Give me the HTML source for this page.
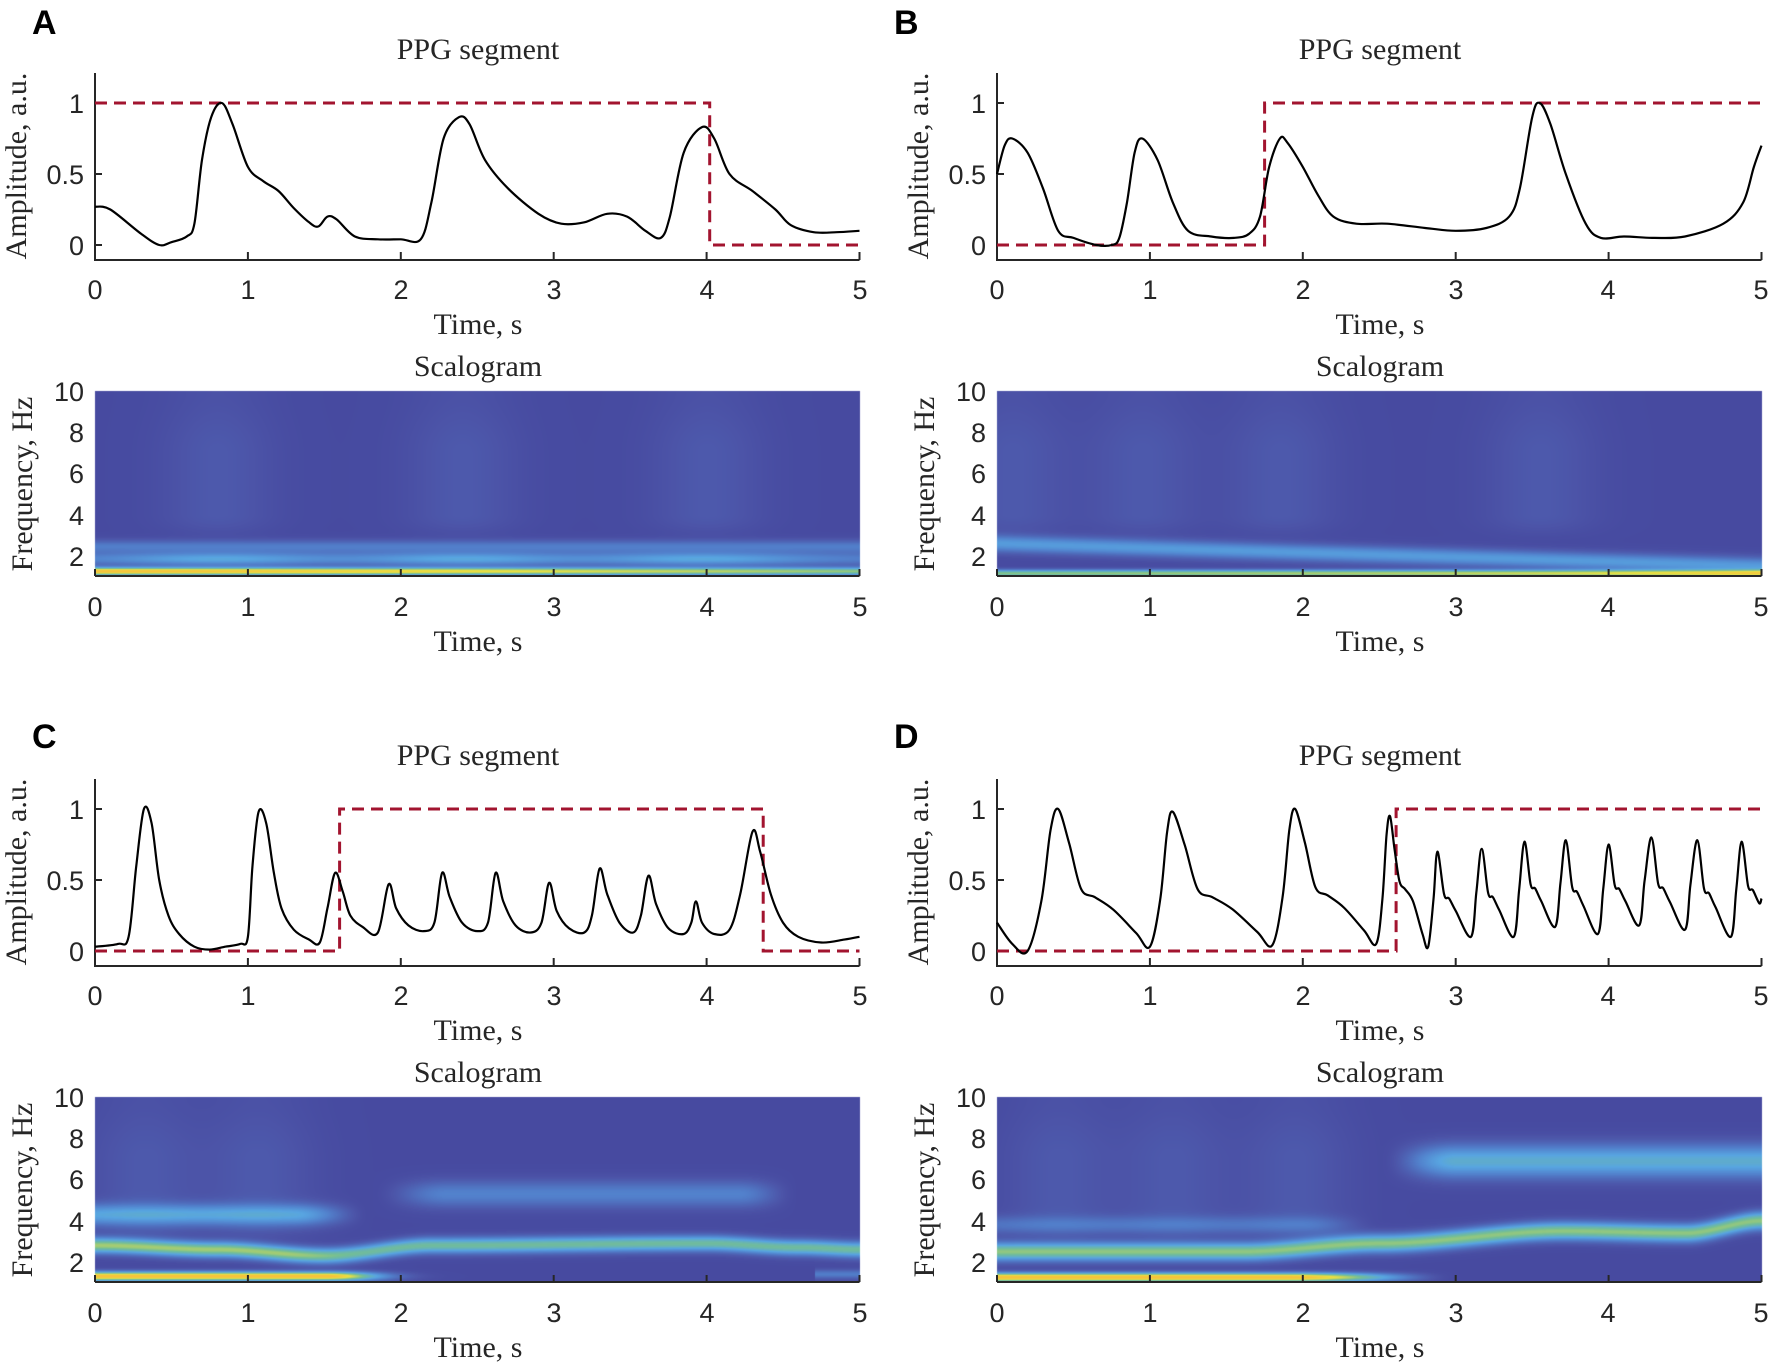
<!DOCTYPE html>
<html><head><meta charset="utf-8"><style>
html,body{margin:0;padding:0;background:#fff;}
#wrap{position:relative;width:1772px;height:1366px;overflow:hidden;}
canvas,svg{position:absolute;left:0;top:0;}
.tk{font-family:"Liberation Sans",sans-serif;font-size:27px;fill:#262626;}
.sr{font-family:"Liberation Serif",serif;font-size:30px;fill:#262626;}
.lt{font-family:"Liberation Sans",sans-serif;font-size:34px;font-weight:bold;fill:#000;}
</style></head><body><div id="wrap">
<canvas id="cv" width="1772" height="1366"></canvas>
<svg id="sv" width="1772" height="1366" xmlns="http://www.w3.org/2000/svg">
<g id="g"></g>
<text class="lt" x="32" y="34">A</text>
<text class="lt" x="894" y="34">B</text>
<text class="lt" x="32" y="748">C</text>
<text class="lt" x="894" y="748">D</text>
<text class="sr" x="478" y="59" text-anchor="middle">PPG segment</text>
<text class="sr" x="1380" y="59" text-anchor="middle">PPG segment</text>
<text class="sr" x="478" y="765" text-anchor="middle">PPG segment</text>
<text class="sr" x="1380" y="765" text-anchor="middle">PPG segment</text>
<text class="sr" x="478" y="376" text-anchor="middle">Scalogram</text>
<text class="sr" x="1380" y="376" text-anchor="middle">Scalogram</text>
<text class="sr" x="478" y="1082" text-anchor="middle">Scalogram</text>
<text class="sr" x="1380" y="1082" text-anchor="middle">Scalogram</text>
<text class="sr" x="478" y="334" text-anchor="middle">Time, s</text>
<text class="sr" x="1380" y="334" text-anchor="middle">Time, s</text>
<text class="sr" x="478" y="651" text-anchor="middle">Time, s</text>
<text class="sr" x="1380" y="651" text-anchor="middle">Time, s</text>
<text class="sr" x="478" y="1040" text-anchor="middle">Time, s</text>
<text class="sr" x="1380" y="1040" text-anchor="middle">Time, s</text>
<text class="sr" x="478" y="1357" text-anchor="middle">Time, s</text>
<text class="sr" x="1380" y="1357" text-anchor="middle">Time, s</text>
<text class="sr" transform="translate(26,166) rotate(-90)" text-anchor="middle">Amplitude, a.u.</text>
<text class="sr" transform="translate(928,166) rotate(-90)" text-anchor="middle">Amplitude, a.u.</text>
<text class="sr" transform="translate(26,872) rotate(-90)" text-anchor="middle">Amplitude, a.u.</text>
<text class="sr" transform="translate(928,872) rotate(-90)" text-anchor="middle">Amplitude, a.u.</text>
<text class="sr" transform="translate(32,484) rotate(-90)" text-anchor="middle">Frequency, Hz</text>
<text class="sr" transform="translate(934,484) rotate(-90)" text-anchor="middle">Frequency, Hz</text>
<text class="sr" transform="translate(32,1190) rotate(-90)" text-anchor="middle">Frequency, Hz</text>
<text class="sr" transform="translate(934,1190) rotate(-90)" text-anchor="middle">Frequency, Hz</text>
<g id="ticks">
<g class="tk" text-anchor="middle">
<text x="95" y="299">0</text><text x="248" y="299">1</text><text x="401" y="299">2</text><text x="554" y="299">3</text><text x="707" y="299">4</text><text x="860" y="299">5</text>
<text x="997" y="299">0</text><text x="1150" y="299">1</text><text x="1303" y="299">2</text><text x="1456" y="299">3</text><text x="1608" y="299">4</text><text x="1761" y="299">5</text>
<text x="95" y="616">0</text><text x="248" y="616">1</text><text x="401" y="616">2</text><text x="554" y="616">3</text><text x="707" y="616">4</text><text x="860" y="616">5</text>
<text x="997" y="616">0</text><text x="1150" y="616">1</text><text x="1303" y="616">2</text><text x="1456" y="616">3</text><text x="1608" y="616">4</text><text x="1761" y="616">5</text>
<text x="95" y="1005">0</text><text x="248" y="1005">1</text><text x="401" y="1005">2</text><text x="554" y="1005">3</text><text x="707" y="1005">4</text><text x="860" y="1005">5</text>
<text x="997" y="1005">0</text><text x="1150" y="1005">1</text><text x="1303" y="1005">2</text><text x="1456" y="1005">3</text><text x="1608" y="1005">4</text><text x="1761" y="1005">5</text>
<text x="95" y="1322">0</text><text x="248" y="1322">1</text><text x="401" y="1322">2</text><text x="554" y="1322">3</text><text x="707" y="1322">4</text><text x="860" y="1322">5</text>
<text x="997" y="1322">0</text><text x="1150" y="1322">1</text><text x="1303" y="1322">2</text><text x="1456" y="1322">3</text><text x="1608" y="1322">4</text><text x="1761" y="1322">5</text>
</g>
<g class="tk" text-anchor="end">
<text x="84" y="113">1</text><text x="84" y="184">0.5</text><text x="84" y="255">0</text>
<text x="986" y="113">1</text><text x="986" y="184">0.5</text><text x="986" y="255">0</text>
<text x="84" y="819">1</text><text x="84" y="890">0.5</text><text x="84" y="961">0</text>
<text x="986" y="819">1</text><text x="986" y="890">0.5</text><text x="986" y="961">0</text>
<text x="84" y="401">10</text><text x="84" y="442">8</text><text x="84" y="483">6</text><text x="84" y="525">4</text><text x="84" y="566">2</text>
<text x="986" y="401">10</text><text x="986" y="442">8</text><text x="986" y="483">6</text><text x="986" y="525">4</text><text x="986" y="566">2</text>
<text x="84" y="1107">10</text><text x="84" y="1148">8</text><text x="84" y="1189">6</text><text x="84" y="1231">4</text><text x="84" y="1272">2</text>
<text x="986" y="1107">10</text><text x="986" y="1148">8</text><text x="986" y="1189">6</text><text x="986" y="1231">4</text><text x="986" y="1272">2</text>
</g>
</g>
</svg>
</div>
<script>
var NS="http://www.w3.org/2000/svg",G=document.getElementById('g');
function el(n,a){var e=document.createElementNS(NS,n);for(var k in a)e.setAttribute(k,a[k]);G.appendChild(e);return e;}
var panels=[{x0:95,dy:0},{x0:997,dy:0},{x0:95,dy:706},{x0:997,dy:706}];
var W=764.5;
function crPath(pts){var d="M"+pts[0][0].toFixed(1)+","+pts[0][1].toFixed(1);
for(var i=0;i<pts.length-1;i++){var p0=pts[i-1]||pts[i],p1=pts[i],p2=pts[i+1],p3=pts[i+2]||p2;
var c1=[p1[0]+(p2[0]-p0[0])/6,p1[1]+(p2[1]-p0[1])/6],c2=[p2[0]-(p3[0]-p1[0])/6,p2[1]-(p3[1]-p1[1])/6];
d+="C"+c1[0].toFixed(1)+","+c1[1].toFixed(1)+" "+c2[0].toFixed(1)+","+c2[1].toFixed(1)+" "+p2[0].toFixed(1)+","+p2[1].toFixed(1);}return d;}
var sig=[
[[0,0.27],[0.1,0.25],[0.3,0.08],[0.42,0],[0.5,0.02],[0.6,0.06],[0.65,0.15],[0.7,0.6],[0.76,0.9],[0.83,1.0],[0.9,0.85],[1.0,0.55],[1.1,0.45],[1.2,0.38],[1.3,0.26],[1.4,0.16],[1.46,0.13],[1.52,0.2],[1.58,0.18],[1.7,0.06],[1.85,0.04],[2.0,0.04],[2.13,0.04],[2.2,0.3],[2.28,0.75],[2.38,0.9],[2.45,0.85],[2.55,0.6],[2.7,0.4],[2.9,0.22],[3.05,0.15],[3.2,0.16],[3.35,0.22],[3.48,0.2],[3.6,0.1],[3.7,0.05],[3.76,0.2],[3.85,0.65],[3.97,0.83],[4.05,0.75],[4.15,0.5],[4.3,0.38],[4.45,0.25],[4.55,0.14],[4.7,0.09],[4.85,0.09],[5,0.1]],
[[0,0.5],[0.05,0.7],[0.1,0.75],[0.2,0.65],[0.3,0.4],[0.4,0.1],[0.5,0.05],[0.65,0.0],[0.75,0.0],[0.8,0.05],[0.85,0.3],[0.9,0.65],[0.95,0.75],[1.05,0.6],[1.15,0.3],[1.25,0.1],[1.4,0.06],[1.55,0.05],[1.65,0.08],[1.72,0.2],[1.78,0.55],[1.85,0.75],[1.9,0.72],[2.0,0.55],[2.1,0.35],[2.2,0.2],[2.35,0.15],[2.55,0.15],[2.8,0.12],[3.0,0.1],[3.2,0.12],[3.35,0.2],[3.42,0.4],[3.5,0.9],[3.55,1.0],[3.62,0.85],[3.72,0.5],[3.85,0.15],[3.95,0.05],[4.1,0.06],[4.3,0.05],[4.5,0.06],[4.75,0.15],[4.88,0.3],[4.95,0.55],[5,0.7]],
[[0,0.03],[0.15,0.05],[0.22,0.1],[0.27,0.6],[0.32,1.0],[0.37,0.9],[0.42,0.5],[0.48,0.25],[0.55,0.12],[0.65,0.03],[0.75,0.01],[0.85,0.03],[0.95,0.05],[1.0,0.1],[1.03,0.6],[1.07,0.98],[1.12,0.9],[1.17,0.55],[1.22,0.3],[1.3,0.15],[1.4,0.08],[1.47,0.06],[1.52,0.3],[1.57,0.55],[1.62,0.42],[1.67,0.25],[1.75,0.17],[1.85,0.13],[1.92,0.47],[1.97,0.3],[2.05,0.18],[2.15,0.14],[2.22,0.2],[2.27,0.55],[2.32,0.38],[2.4,0.2],[2.5,0.14],[2.57,0.2],[2.62,0.55],[2.67,0.35],[2.75,0.18],[2.85,0.13],[2.92,0.2],[2.97,0.48],[3.02,0.28],[3.1,0.16],[3.2,0.13],[3.25,0.25],[3.3,0.58],[3.35,0.4],[3.43,0.2],[3.52,0.13],[3.57,0.25],[3.62,0.53],[3.67,0.33],[3.75,0.16],[3.85,0.12],[3.9,0.2],[3.93,0.35],[3.97,0.2],[4.05,0.12],[4.15,0.15],[4.22,0.4],[4.3,0.84],[4.35,0.7],[4.42,0.4],[4.5,0.2],[4.6,0.1],[4.75,0.06],[4.9,0.08],[5,0.1]],
null];
(function(){var p=[[0,0.2]];
function beat(t0,v0,tp,a,t1,v1,sh){var L=t1-tp;
p.push([t0,v0]);p.push([t0+(tp-t0)*0.45,v0+(a-v0)*0.35]);p.push([t0+(tp-t0)*0.75,v0+(a-v0)*0.85]);p.push([tp,a]);
p.push([tp+L*0.12,v1+(a-v1)*0.75]);p.push([tp+L*0.25,v1+(a-v1)*sh]);p.push([tp+L*0.4,v1+(a-v1)*(sh-0.06)]);p.push([tp+L*0.6,v1+(a-v1)*(sh-0.15)]);p.push([tp+L*0.85,v1+(a-v1)*0.1]);}
p.push([0.1,0.05]);
beat(0.2,0,0.4,1.0,1.0,0.03,0.42);beat(1.0,0.03,1.15,0.98,1.8,0.04,0.42);beat(1.8,0.04,1.95,1.0,2.48,0.05,0.42);
beat(2.48,0.05,2.57,0.95,2.82,0.03,0.5);
var T=[[2.82,0.03,2.88,0.7],[3.1,0.1,3.17,0.72],[3.38,0.1,3.45,0.77],[3.65,0.17,3.72,0.78],[3.93,0.12,4.0,0.75],[4.2,0.18,4.28,0.8],[4.5,0.15,4.58,0.78],[4.8,0.1,4.87,0.77]];
var nx=[[3.1,0.1],[3.38,0.1],[3.65,0.17],[3.93,0.12],[4.2,0.18],[4.5,0.15],[4.8,0.1],[5.08,0.15]];
for(var i=0;i<T.length;i++){var b=T[i],L=nx[i][0]-b[2],v1=nx[i][1],a=b[3];
p.push([b[0],b[1]]);p.push([b[0]+0.035,b[1]+(a-b[1])*0.5]);p.push([b[2],a]);p.push([b[2]+L*0.2,v1+(a-v1)*0.5]);p.push([b[2]+L*0.35,v1+(a-v1)*0.45]);
if(b[2]+L*0.55<=5)p.push([b[2]+L*0.55,v1+(a-v1)*0.3]);}
p.push([5,0.37]);sig[3]=p.filter(function(q){return q[0]<=5;});})();
var rect=[[[0,1],[4.02,1],[4.02,0],[5,0]],[[0,0],[1.75,0],[1.75,1],[5,1]],[[0,0],[1.6,0],[1.6,1],[4.37,1],[4.37,0],[5,0]],[[0,0],[2.61,0],[2.61,1],[5,1]]];
panels.forEach(function(P,i){var sx=function(t){return P.x0+t*W/5},sy=function(v){return P.dy+245-v*142};
el('path',{d:"M"+P.x0+","+(P.dy+73)+"V"+(P.dy+260)+"H"+(P.x0+W),stroke:"#262626","stroke-width":2,fill:"none"});
for(var k=1;k<=5;k++)el('line',{x1:sx(k),x2:sx(k),y1:P.dy+260,y2:P.dy+252,stroke:"#262626","stroke-width":2});
[0,0.5,1].forEach(function(v){el('line',{x1:P.x0,x2:P.x0+7,y1:sy(v),y2:sy(v),stroke:"#262626","stroke-width":2});});
el('path',{d:rect[i].map(function(q,j){return (j?"L":"M")+sx(q[0]).toFixed(1)+","+sy(q[1]).toFixed(1)}).join(""),stroke:"#a2142f","stroke-width":3,"stroke-dasharray":"12,7",fill:"none"});
el('path',{d:crPath(sig[i].map(function(q){return [sx(q[0]),sy(q[1])]})),stroke:"#000","stroke-width":2.2,fill:"none"});
var by=P.dy+576;
el('line',{x1:P.x0,x2:P.x0+W,y1:by,y2:by,stroke:"#262626","stroke-width":2});
for(var k=0;k<=5;k++)el('line',{x1:sx(k),x2:sx(k),y1:by,y2:by-7,stroke:"#262626","stroke-width":2});
});
function g(x,m,s){var z=(x-m)/s;return Math.exp(-0.5*z*z);}
function interp(arr,t){if(t<=arr[0][0])return arr[0][1];for(var i=0;i<arr.length-1;i++){if(t<=arr[i+1][0]){var u=(t-arr[i][0])/(arr[i+1][0]-arr[i][0]);u=u*u*(3-2*u);return arr[i][1]+u*(arr[i+1][1]-arr[i][1]);}}return arr[arr.length-1][1];}
function ss(x,a,b){var u=Math.min(1,Math.max(0,(x-a)/(b-a)));return u*u*(3-2*u);}
function streak(t,f,pk){var s=0;pk.forEach(function(p){s+=g(t,p,0.25);});return 0.06*Math.min(s,1)*ss(f,2.5,4)*(1-ss(f,7,10)*0.5);}
var F=[
function(t,f){return 0.08+streak(t,f,[0.8,2.4,4.0])+0.95*g(f,1.25,0.13)*(1-0.35*t/5)+0.38*g(f,1.85,0.22)*(0.5+0.5*Math.min(1,g(t,0.8,0.45)+g(t,2.4,0.45)+g(t,3.95,0.45)))+0.2*g(f,2.45,0.22);},
function(t,f){return 0.08+streak(t,f,[0.1,0.95,1.85,3.55])+0.8*g(f,1.15,0.12)*(0.75+0.2*t/5)+0.33*g(f,2.6-0.22*t,0.28);},
function(t,f){var fade=t<1.5?1:Math.exp(-Math.pow((t-1.5)/0.35,2));
return 0.08+streak(t,f,[0.32,1.07])+0.95*g(f,1.3,0.15)*fade+(t>4.7?0.2*g(f,1.4,0.15):0)+(0.55+0.1*(1-ss(t,1.2,1.8)))*g(f,interp([[0,2.8],[0.8,2.6],[1.5,2.3],[2.2,2.8],[4,2.9],[4.6,2.7],[5,2.6]],t),0.26)+0.35*g(f,4.3,0.35)*(1-ss(t,1.3,1.8))+0.22*g(f,5.3,0.45)*ss(t,1.8,2.3)*(1-ss(t,4.2,4.6));},
function(t,f){return 0.08+streak(t,f,[0.4,1.15,1.95])+0.95*g(f,1.25,0.15)*(1-ss(t,1.9,3.0))+0.62*g(f,interp([[0,2.5],[1.6,2.5],[2.5,2.9],[3.7,3.5],[4.5,3.4],[5,4.0]],t),0.3)+0.42*g(f,6.9,0.55)*ss(t,2.5,3.0)+0.15*g(f,3.8,0.3)*(1-ss(t,2,2.5));}
];
var cm=[[0,60,55,145],[0.12,76,84,168],[0.3,82,130,205],[0.45,88,165,225],[0.65,115,190,150],[0.85,235,225,65],[1,245,195,60]];
function col(v){v=Math.max(0,Math.min(1,v));for(var i=0;i<cm.length-1;i++){if(v<=cm[i+1][0]){var u=(v-cm[i][0])/(cm[i+1][0]-cm[i][0]);return [cm[i][1]+u*(cm[i+1][1]-cm[i][1]),cm[i][2]+u*(cm[i+1][2]-cm[i][2]),cm[i][3]+u*(cm[i+1][3]-cm[i][3])];}}return cm[cm.length-1].slice(1);}
var cv=document.getElementById('cv'),ctx=cv.getContext('2d');
panels.forEach(function(P,i){var x0=Math.round(P.x0),y0=P.dy+391,w=Math.round(W),h=185;var im=ctx.createImageData(w,h);
for(var y=0;y<h;y++){var f=10-(y/h)*9;for(var x=0;x<w;x++){var t=x/w*5;var c=col(F[i](t,f));var o=(y*w+x)*4;im.data[o]=c[0];im.data[o+1]=c[1];im.data[o+2]=c[2];im.data[o+3]=255;}}
ctx.putImageData(im,x0,y0);});
</script>
</body></html>
